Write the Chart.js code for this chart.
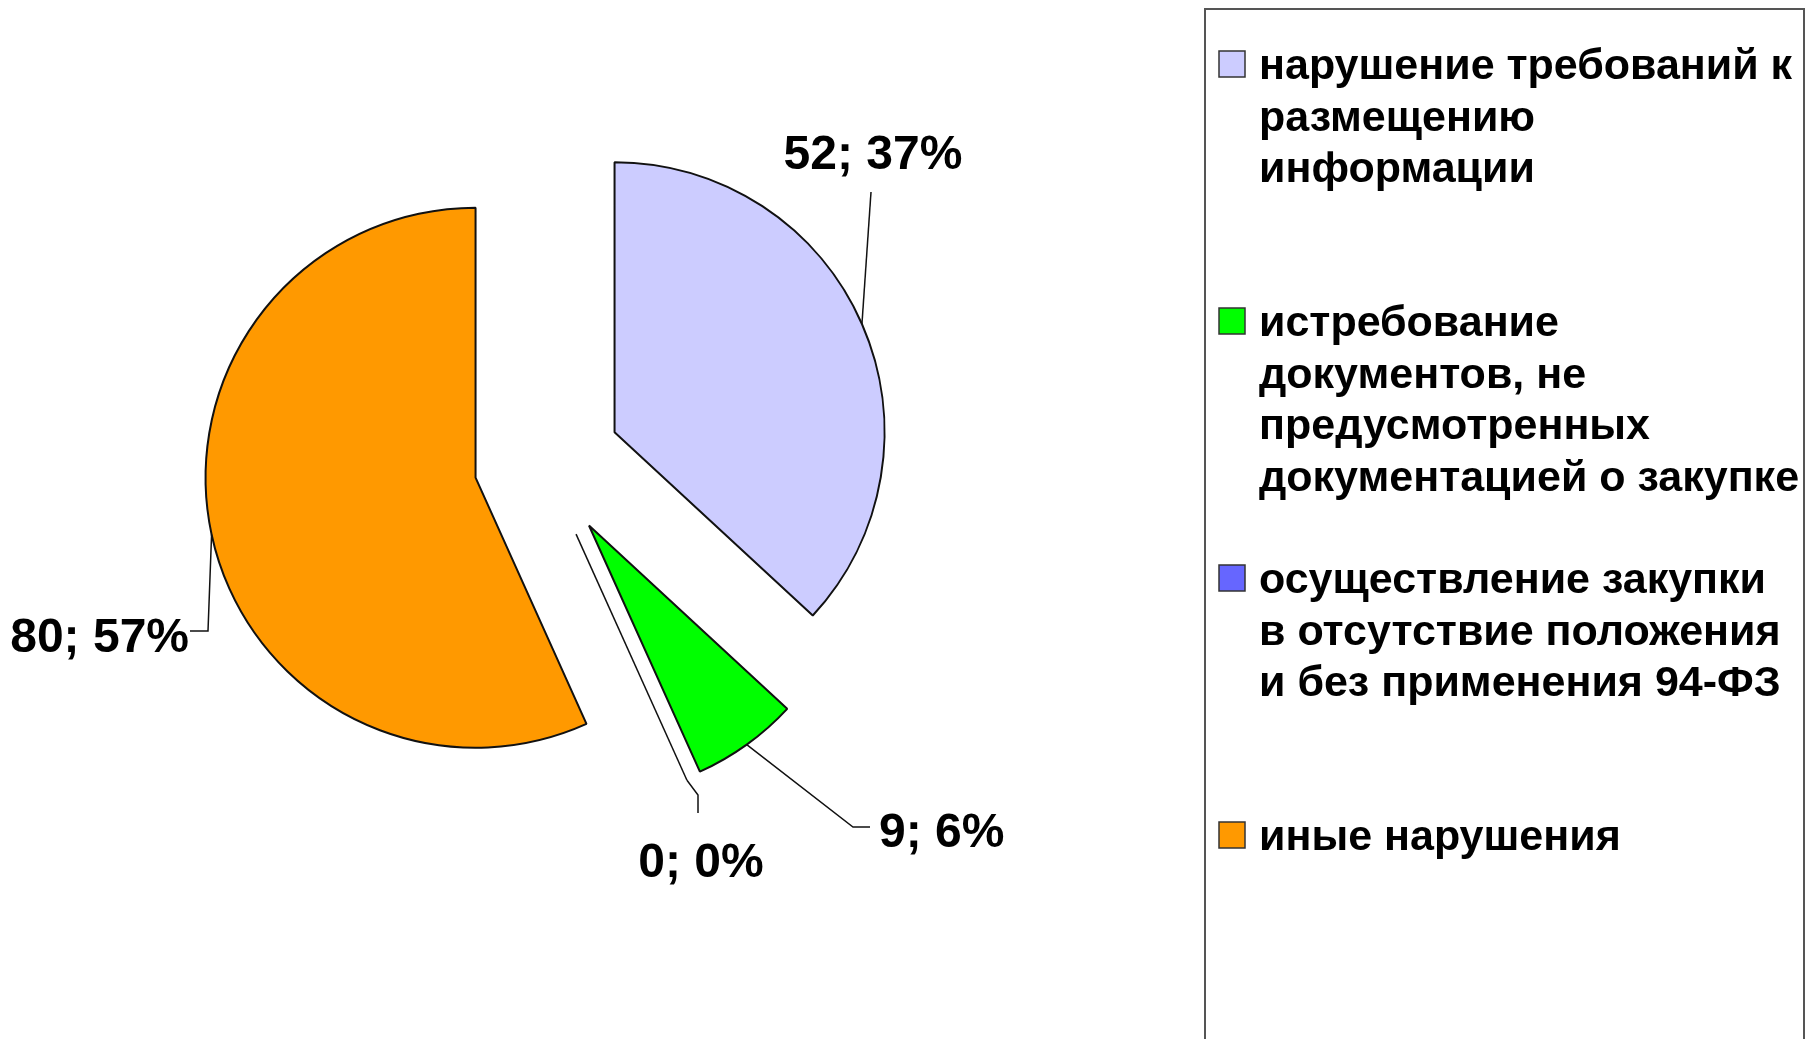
<!DOCTYPE html>
<html lang="ru">
<head>
<meta charset="utf-8">
<title>Нарушения</title>
<script src="https://cdn.jsdelivr.net/npm/chart.js@4.4.1/dist/chart.umd.min.js"></script>
<style>
  html, body { margin: 0; padding: 0; background: #fff; }
  #wrap { width: 1806px; height: 1039px; }
</style>
</head>
<body>
<div id="wrap"><canvas id="pie" width="1806" height="1039"></canvas></div>
<script>
'use strict';

// legend names, already split into the lines they are shown on
var categories = [
  ['нарушение требований к', 'размещению', 'информации'],
  ['истребование', 'документов, не', 'предусмотренных', 'документацией о закупке'],
  ['осуществление закупки', 'в отсутствие положения', 'и без применения 94-ФЗ'],
  ['иные нарушения']
];
var counts = [52, 9, 0, 80];
var colors = ['#ccccff', '#00ff00', '#6666ff', '#ff9900'];

// how far each slice is pulled out of the pie, px
var explode = [77, 77, 78, 70];
// where the "n; p%" labels sit and the bends of their leader lines
var labelSpots = [
  {x: 873, y: 156, align: 'center', path: [[871, 192]]},
  {x: 879, y: 834, align: 'left', path: [[853, 827], [870, 827]]},
  {x: 701, y: 864, align: 'center', path: [[698, 795], [698, 813]]},
  {x: 189, y: 639, align: 'right', path: [[208, 631], [190, 631]]}
];

var total = counts.reduce(function(a, b){ return a + b; }, 0);
var percents = counts.map(function(v){ return Math.round(v / total * 100); });

var LINE = '#111';
var FONT = '"Liberation Sans", Arial, sans-serif';

function sliceDir(arc, i){
  var mid = (arc.startAngle + arc.endAngle) / 2;
  return {mid: mid, dx: Math.cos(mid) * explode[i], dy: Math.sin(mid) * explode[i]};
}

var explodedPie = {
  id: 'explodedPie',
  beforeDatasetDraw: function(chart, args){
    var ctx = chart.ctx;
    args.meta.data.forEach(function(arc, i){
      var d = sliceDir(arc, i);
      ctx.save();
      ctx.translate(d.dx, d.dy);
      if(arc.circumference > 0){
        arc.draw(ctx);
      }else{
        // an empty slice shows up as a single radius
        ctx.strokeStyle = LINE;
        ctx.lineWidth = 1.5;
        ctx.beginPath();
        ctx.moveTo(arc.x, arc.y);
        ctx.lineTo(arc.x + Math.cos(d.mid) * arc.outerRadius, arc.y + Math.sin(d.mid) * arc.outerRadius);
        ctx.stroke();
      }
      ctx.restore();
    });
    return false;
  },
  // labels go here since the default dataset draw is skipped above
  afterDatasetsDraw: function(chart){
    var ctx = chart.ctx;
    chart.getDatasetMeta(0).data.forEach(function(arc, i){
      var d = sliceDir(arc, i);
      var spot = labelSpots[i];
      var sx = arc.x + d.dx + Math.cos(d.mid) * arc.outerRadius;
      var sy = arc.y + d.dy + Math.sin(d.mid) * arc.outerRadius;
      ctx.save();
      ctx.strokeStyle = LINE;
      ctx.lineWidth = 1.5;
      ctx.beginPath();
      ctx.moveTo(sx, sy);
      for(var k = 0; k < spot.path.length; k++){
        ctx.lineTo(spot.path[k][0], spot.path[k][1]);
      }
      ctx.stroke();
      ctx.fillStyle = '#000';
      ctx.font = 'bold 48px ' + FONT;
      ctx.textAlign = spot.align;
      ctx.textBaseline = 'middle';
      ctx.fillText(counts[i] + '; ' + percents[i] + '%', spot.x, spot.y);
      ctx.restore();
    });
  }
};

var boxLegend = {
  id: 'boxLegend',
  afterDraw: function(chart){
    var ctx = chart.ctx;
    ctx.save();
    ctx.strokeStyle = '#555';
    ctx.lineWidth = 2;
    ctx.strokeRect(1205, 9, 599, 1100);
    ctx.font = 'bold 43px ' + FONT;
    ctx.textAlign = 'left';
    ctx.textBaseline = 'alphabetic';
    for(var i = 0; i < categories.length; i++){
      var y0 = 66 + i * 257;
      ctx.fillStyle = colors[i];
      ctx.fillRect(1219, y0 - 15, 26, 26);
      ctx.strokeStyle = '#333';
      ctx.lineWidth = 1.5;
      ctx.strokeRect(1219, y0 - 15, 26, 26);
      ctx.fillStyle = '#000';
      for(var j = 0; j < categories[i].length; j++){
        ctx.fillText(categories[i][j], 1259, y0 + 13 + j * 51.5);
      }
    }
    ctx.restore();
  }
};

var ctx = document.getElementById('pie');
var pieChart = new Chart(ctx, {
  type: 'pie',
  data: {
    labels: categories.map(function(c){ return c.join(' '); }),
    datasets: [{
      data: counts,
      backgroundColor: colors,
      borderColor: LINE,
      borderWidth: 2,
      radius: 270
    }]
  },
  options: {
    responsive: false,
    animation: false,
    layout: { padding: { left: 244, right: 962, top: 163, bottom: 276 } },
    plugins: {
      legend: { display: false },
      tooltip: { enabled: false }
    }
  },
  plugins: [explodedPie, boxLegend]
});
</script>
</body>
</html>
